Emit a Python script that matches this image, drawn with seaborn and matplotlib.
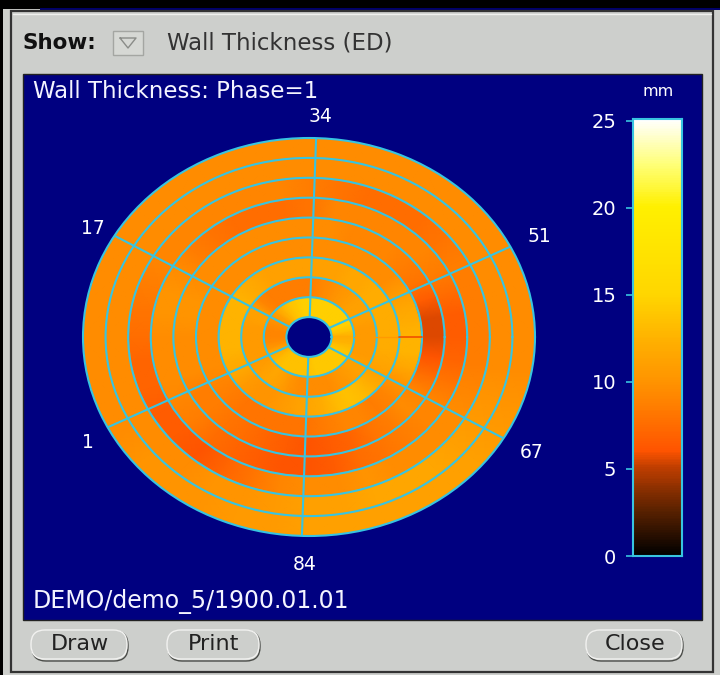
import numpy as np
import matplotlib
matplotlib.use('Agg')
import matplotlib.pyplot as plt
from matplotlib.colors import LinearSegmentedColormap
from matplotlib.patches import FancyBboxPatch, Rectangle
import seaborn as sns

# wall thickness in mm, one row per ring (inner to outer), one value every 10 degrees from 0
ring1 = [12, 13.5, 14.5, 14.5, 14.5, 14.5, 14.5, 14.5, 14.5, 14.5, 14.5, 14, 13.5, 12.5, 11, 10, 9.5, 9,
         9, 9.5, 10.5, 12, 13, 13.5, 13.5, 13.5, 13.5, 13.5, 14, 14, 14, 14, 14, 14, 13.5, 12.5]
ring2 = [10.5, 10.5, 11, 11, 11, 10.5, 10, 9.5, 9, 8.5, 8.5, 8.5, 8.5, 8.5, 9, 11, 11, 10.5,
         10.5, 10.5, 10.5, 10.5, 11, 11.5, 11, 10, 9.5, 9.5, 9.5, 9.5, 10, 10.5, 11, 11, 10.5, 10.5]
ring3 = [12, 12, 12, 12, 12, 11.5, 11.5, 11, 11, 11, 11, 11, 11, 11.5, 12, 12.5, 12.5, 12.5,
         12.5, 12.5, 12, 11.5, 10.5, 10, 10, 10.5, 11, 11.5, 12, 13, 13.5, 13, 12, 11, 11.5, 12]
ring4 = [12.5, 12, 11.5, 10.5, 9.5, 9.5, 9.5, 9.5, 9.5, 9.5, 9.5, 9.5, 9.5, 9.5, 9.5, 9.5, 9.5, 9.5,
         9.5, 9.5, 9.5, 9, 8.5, 8, 8, 8, 8, 8, 8.5, 9, 9, 8.5, 9, 10, 11.5, 12.5]
ring5 = [5.5, 5.5, 6.5, 8, 8.5, 9, 9, 9, 9.5, 9.5, 9.5, 9.5, 9.5, 9.5, 9.5, 9.5, 10, 10,
         9.5, 9.5, 9.5, 8.5, 8.5, 8, 7.5, 7, 6.5, 6, 6.5, 7, 8, 8.5, 9.5, 9, 7.5, 6]
ring6 = [6.5, 6.5, 7.5, 8.5, 9, 9, 9, 9, 9, 8, 7.5, 7.5, 7.5, 8, 8.5, 9.5, 10, 10,
         9.5, 9.5, 9.5, 9, 8.5, 7.5, 7, 6.5, 6, 6, 6.5, 7.5, 8, 8.5, 9, 9, 8, 7]
ring7 = [8.5, 8.5, 8.5, 8.5, 8, 7.5, 7.5, 7.5, 8, 8.5, 9, 9, 9, 9, 9, 9, 8.5, 8,
         7.5, 7, 7, 6.5, 6.5, 6, 7, 8, 9, 9.5, 9.5, 10, 9.5, 9.5, 9.5, 9.5, 9, 8.5]
ring8 = [9.5, 9.5, 9.5, 9.5, 9.5, 9.5, 9.5, 9.5, 9.5, 9.5, 9.5, 9.5, 9.5, 9.5, 9.5, 9.5, 9.5, 9.5,
         9.5, 9.5, 9.5, 9.5, 9.5, 9.5, 10, 10, 10.5, 11, 11, 11.5, 11.5, 11.5, 11, 10.5, 10, 9.5]
ring9 = [9.5, 9.5, 9.5, 9.5, 9.5, 9.5, 9.5, 9.5, 9.5, 9.5, 9.5, 9.5, 9.5, 9.5, 9.5, 9.5, 9.5, 9.5,
         9.5, 9.5, 9.5, 9.5, 10, 10, 10, 10.5, 10.5, 11, 11, 11, 11, 11, 11, 10.5, 10, 9.5]
rings = [ring1, ring2, ring3, ring4, ring5, ring6, ring7, ring8, ring9]

segment_labels = ['1', '17', '34', '51', '67', '84']
segment_numbers = [1, 17, 34, 51, 67, 84]
bar_ticks = [0, 5, 10, 15, 20, 25]

NAVY = '#000080'
CYAN = '#38c4e0'
GREY = '#cdcfcc'
FONT = 'DejaVu Sans'

sns.set_theme(style='white', rc={'font.family': FONT})
thick_map = LinearSegmentedColormap.from_list('thick', [
    (0.0, (0, 0, 0)), (0.1, (0.35, 0.13, 0)), (0.2, (0.74, 0.24, 0)), (0.24, (1, 0.33, 0)),
    (0.3, (1, 0.43, 0)), (0.4, (1, 0.58, 0)), (0.5, (1, 0.7, 0)), (0.6, (1, 0.84, 0)),
    (0.8, (1, 0.94, 0)), (0.9, (1, 1, 0.47)), (1.0, (1, 1, 1))])


def px_axes(fig, left, top, right, bottom, **kw):
    return fig.add_axes([left / 720, 1 - bottom / 675, (right - left) / 720, (bottom - top) / 675], **kw)


def button(ax, x0, x1, label):
    pad = 13
    ax.add_patch(FancyBboxPatch((x0 + pad, 631 + pad), x1 - x0 - 2 * pad, 30 - 2 * pad,
                                boxstyle=f'round,pad={pad},rounding_size=14', fc=GREY, ec='#4a4c48', lw=1))
    ax.add_patch(FancyBboxPatch((x0 + pad - 1, 630 + pad), x1 - x0 - 2 * pad, 29 - 2 * pad,
                                boxstyle=f'round,pad={pad},rounding_size=14', fc=GREY, ec='#f2f2f0', lw=1))
    ax.text((x0 + x1) / 2, 644, label, color='#222222', fontsize=16, ha='center', va='center')


fig = plt.figure(figsize=(7.2, 6.75), dpi=100, facecolor='black')

# window chrome, in pixel coordinates
bg = fig.add_axes([0, 0, 1, 1])
bg.set_xlim(0, 720)
bg.set_ylim(675, 0)
bg.axis('off')
bg.add_patch(Rectangle((3, 9), 717, 666, fc=GREY, ec='none'))
bg.add_patch(Rectangle((40, 8), 680, 2, fc='#00006a', ec='none'))
bg.add_patch(Rectangle((11, 11), 702, 661, fc=GREY, ec='#333333', lw=1.6))
bg.plot([13, 711], [14, 14], color='#f0f0ee', lw=1)
bg.add_patch(Rectangle((23, 74), 679, 546, fc=NAVY, ec='#222222', lw=1))
bg.add_patch(Rectangle((113, 31), 30, 24, fc='#d6d8d4', ec='#a4a6a2', lw=1))
bg.plot([120, 136, 128, 120], [38, 38, 48, 38], color='#8a8c88', lw=1)
bg.text(22, 43, 'Show:', color='#111111', fontsize=15.5, fontweight='bold', va='center')
bg.text(167, 43, 'Wall Thickness (ED)', color='#333333', fontsize=16.5, va='center')
bg.text(33, 91, 'Wall Thickness: Phase=1', color='#f4f4ff', fontsize=16.5, va='center')
bg.text(33, 602, 'DEMO/demo_5/1900.01.01', color='#f4f4ff', fontsize=17, va='center')
bg.text(658, 91, 'mm', color='white', fontsize=11.5, ha='center', va='center')
button(bg, 32, 128, 'Draw')
button(bg, 168, 260, 'Print')
button(bg, 587, 683, 'Close')
label_spots = [(88, 442), (93, 228), (320, 116), (539, 237), (532, 453), (305, 564)]
for (lx, ly), lab in zip(label_spots, segment_labels):
    bg.text(lx, ly, lab, color='white', fontsize=13.5, ha='center', va='center')

# bull's eye: a polar axes squeezed to an ellipse, one mesh per ring
ax = px_axes(fig, 83, 138, 535, 536, projection='polar')
ax.set_aspect('auto')
ax.patch.set_alpha(0)
theta_deg = np.arange(0, 370, 10)
theta = np.deg2rad(theta_deg)
for i, ring in enumerate(rings):
    vals = np.array(ring + ring[:1])
    C = np.vstack([vals, vals])
    T, R = np.meshgrid(theta, [i + 1, i + 2])
    ax.pcolormesh(T, R, C, cmap=thick_map, vmin=0, vmax=25, shading='gouraud')
ax.set_rorigin(0)
ax.set_rlim(1, 10)
ax.set_rgrids(np.arange(2, 10), labels=[])
# segment 1 sits at 207 degrees, segments run clockwise round 100 positions
ax.set_thetagrids([(207 - 3.6 * (n - 1)) % 360 for n in segment_numbers], labels=[])
ax.set_axisbelow(False)
ax.grid(True, color=CYAN, lw=1.5)
ax.tick_params(pad=0, length=0)
for s in ax.spines.values():
    s.set_color(CYAN)
    s.set_linewidth(1.5)
ax.plot([0, 0], [2, 4], color='#ff9a00', lw=1, zorder=3)
ax.plot([0, 0], [4, 5], color='#f05000', lw=1.2, zorder=3)

# colour scale
cax = px_axes(fig, 633, 119, 682, 556)
levels = np.arange(0, 25.05, 0.1)
sns.heatmap(levels.reshape(-1, 1), cmap=thick_map, vmin=0, vmax=25, cbar=False, ax=cax,
            xticklabels=False, yticklabels=False)
cax.set_ylim(0, len(levels))
cax.set_yticks(np.array(bar_ticks) / 0.1)
cax.set_yticklabels(bar_ticks, color='white', fontsize=14)
cax.tick_params(axis='y', left=True, length=5, width=1.2, color=CYAN, pad=7)
cax.tick_params(axis='x', bottom=False)
cax.set_xlabel('')
cax.set_ylabel('')
for s in cax.spines.values():
    s.set_visible(True)
    s.set_color(CYAN)
    s.set_linewidth(1.5)

fig.savefig('out.png', dpi=100, facecolor=fig.get_facecolor())
